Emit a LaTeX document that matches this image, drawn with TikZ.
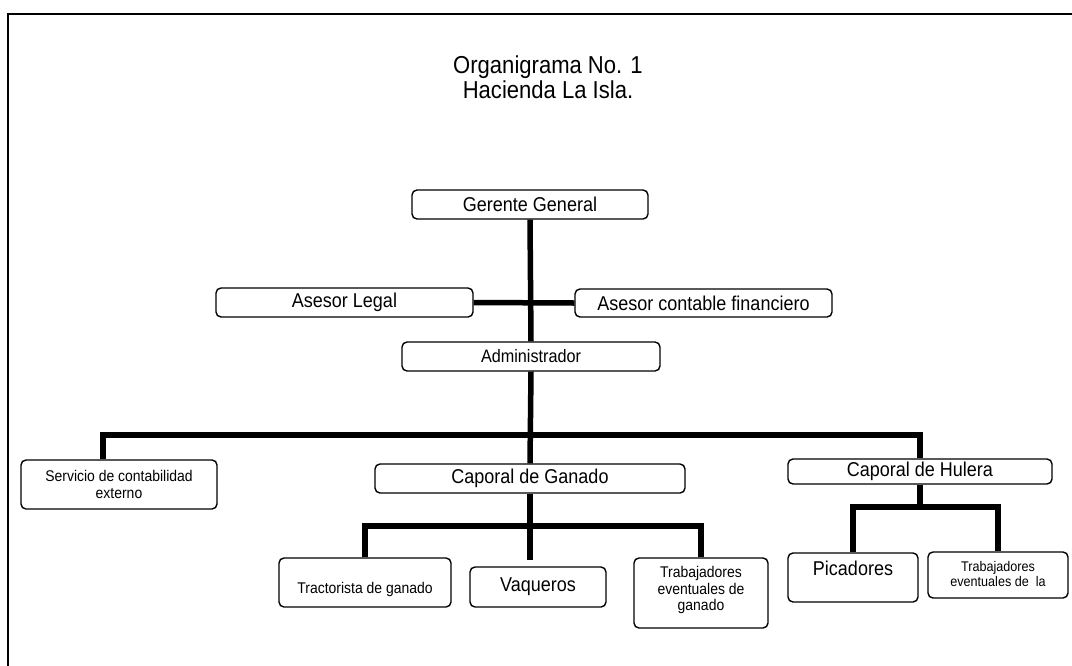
\documentclass[tikz,border=0pt]{standalone}
\usepackage{fontspec}
% a slightly condensed sans, as in the printed chart
\setmainfont{Liberation Sans}[FakeStretch=0.9]
\begin{document}
\begin{tikzpicture}[x=1pt,y=-1pt,
  box/.style={draw, line width=1.4pt, rounded corners=5pt, inner sep=0pt, align=center},
  wire/.style={line width=5.5pt, line join=miter},
  frame/.style={line width=1.4pt},
  ttl/.style={font=\fontsize{24.5}{27}\selectfont, anchor=base},
  big/.style={font=\fontsize{20}{23}\selectfont},
  mid/.style={font=\fontsize{18}{21}\selectfont},
  small/.style={font=\fontsize{15.5}{16.5}\selectfont, align=center},
  tiny/.style={font=\fontsize{14}{14.5}\selectfont, align=center},
  ]
  % page
  \fill[white] (0,0) rectangle (1072,665);
  \useasboundingbox (0,0) rectangle (1072,665);
  \draw[frame] (1090,14) -- (8,14) -- (8,690);

  % heading
  \node[ttl] (t1) at (548,73) {Organigrama No. 1};
  \node[ttl] (t2) at (548,98) {Hacienda La Isla.};

  % upper levels
  \node[box, big, minimum width=236pt, minimum height=29pt] (ger) at (530,204.5) {Gerente General};
  \node[box, big, minimum width=257pt, minimum height=29pt] (leg) at (344.5,302.5) {Asesor Legal};
  \node[box, big, minimum width=257pt, minimum height=28pt] (fin) at (703.5,303) {Asesor contable financiero};
  \node[box, mid, minimum width=258pt, minimum height=29pt] (adm) at (531,356.5) {Administrador};

  % second level
  \node[box, small, minimum width=196pt, minimum height=49pt] (serv) at (119,484.5)
     {Servicio de contabilidad\\externo};
  \node[box, big, minimum width=310pt, minimum height=29pt] (cgan) at (530,478.5) {Caporal de Ganado};
  \node[box, big, minimum width=264pt, minimum height=25pt] (chul) at (920,471.5) {Caporal de Hulera};

  % cattle staff
  \node[box, minimum width=172pt, minimum height=49pt] (trac) at (365,582.5) {};
  \node[small, anchor=base] (tract) at (365,593) {Tractorista de ganado};
  \node[box, big, minimum width=136pt, minimum height=40pt] (vaq) at (538,587) {Vaqueros};
  \node[box, minimum width=134pt, minimum height=70pt] (tgan) at (701,593) {};
  \node[small] (tgant) at (701,590) {Trabajadores\\eventuales de\\ganado};

  % rubber staff
  \node[box, minimum width=130pt, minimum height=49pt] (pic) at (853,577.5) {};
  \node[big, anchor=base] (pict) at (853,575) {Picadores};
  \node[box, minimum width=140pt, minimum height=46pt] (trla) at (998,575) {};
  \node[tiny, anchor=north] (trlat) at (998,558) {Trabajadores\\eventuales de\ \ la};

  % connectors
  \coordinate (busL) at (103,435);
  \coordinate (busR) at (920,435);
  \coordinate (gbus) at (530,526);
  \coordinate (hbus) at (920,507);

  \draw[wire] (ger.south) -- (adm.north);
  \draw[wire] (leg.east) -- (fin.west);
  \draw[wire] (adm.south) -- (cgan.north);
  \draw[wire] (busL |- serv.north) -- (busL) -- (busR) -- (chul.north);
  \draw[wire] (trac.north) -- (trac.north |- gbus) -- (tgan.north |- gbus) -- (tgan.north);
  \draw[wire] (cgan.south) -- (gbus);
  \draw[wire, shorten >=6pt] (gbus) -- (gbus |- vaq.north);
  \draw[wire] (chul.south) -- (hbus);
  \draw[wire] (pic.north) -- (pic.north |- hbus) -- (trla.north |- hbus) -- (trla.north);
\end{tikzpicture}
\end{document}
